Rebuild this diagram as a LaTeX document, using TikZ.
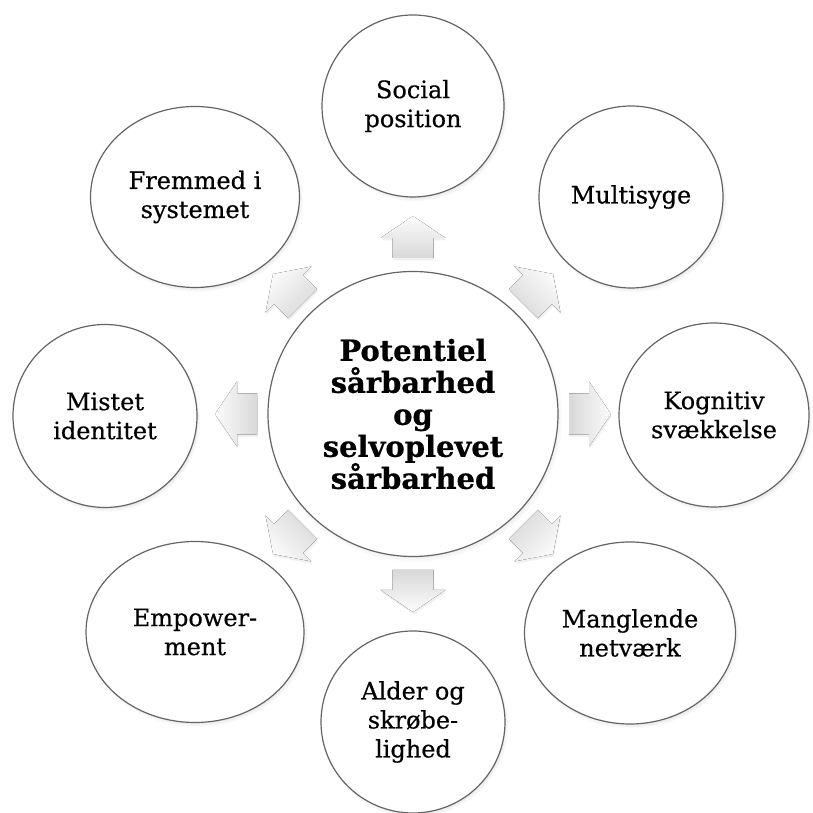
\documentclass[tikz,border=0pt]{standalone}
\usepackage{fontspec}
\setmainfont{DejaVu Serif}[FakeBold=0.5, BoldFeatures={FakeBold=0.7}]
\usetikzlibrary{shapes.geometric,shadows,fadings}
\definecolor{bordergray}{RGB}{100,100,100}
\begin{document}
\begin{tikzpicture}[x=1pt,y=1pt,
  bubble/.style={ellipse, draw=bordergray, line width=1.2pt, fill=white,
    inner sep=0pt, align=center, text=black,
    font=\fontsize{24}{29}\selectfont,
    circular drop shadow={shadow scale=1.02, shadow xshift=1.5pt,
      shadow yshift=-2.5pt, opacity=0.45}},
  hub/.style={bubble, font=\bfseries\fontsize{29}{32}\selectfont},
  blockarrow/.style={top color=gray!3, bottom color=gray!30, draw=none,
    drop shadow={opacity=0.12, shadow xshift=0.8pt, shadow yshift=-2.5pt}}]

\useasboundingbox (0,0) rectangle (812,813);

% outward block arrows around the hub (drawn first, beneath the bubbles)
\coordinate (ctr) at (413,399);
\foreach \a in {0,45,...,315}{
  \pgfmathsetmacro\sa{\a-90}
  \begin{scope}[shift={(ctr)}, rotate=\a]
    \fill[blockarrow, shading angle=\sa]
      (156,-20.5) -- (176,-20.5) -- (176,-32.5) -- (198,0)
      -- (176,32.5) -- (176,20.5) -- (156,20.5) -- cycle;
  \end{scope}
}

% central bubble
\node[hub, minimum width=290, minimum height=285] (hub) at (ctr)
  {Potentiel\\sårbarhed\\og\\selvoplevet\\sårbarhed};

% surrounding bubbles
\node[bubble, minimum width=182, minimum height=182] (social) at (413,707) {Social\\position};
\node[bubble, minimum width=184, minimum height=182] (multi)  at (631,616) {Multisyge};
\node[bubble, minimum width=190, minimum height=184] (kogn)   at (714,398) {Kognitiv\\svækkelse};
\node[bubble, minimum width=211, minimum height=182] (mangl)  at (630,180) {Manglende\\netværk};
\node[bubble, minimum width=184, minimum height=182] (alder)  at (413,91)  {Alder og\\skrøbe-\\lighed};
\node[bubble, minimum width=218, minimum height=181] (empow)  at (195,181) {Empower-\\ment};
\node[bubble, minimum width=184, minimum height=183] (mistet) at (105,397) {Mistet\\identitet};
\node[bubble, minimum width=209, minimum height=181] (fremd)  at (195,616) {Fremmed i\\systemet};
\end{tikzpicture}
\end{document}
